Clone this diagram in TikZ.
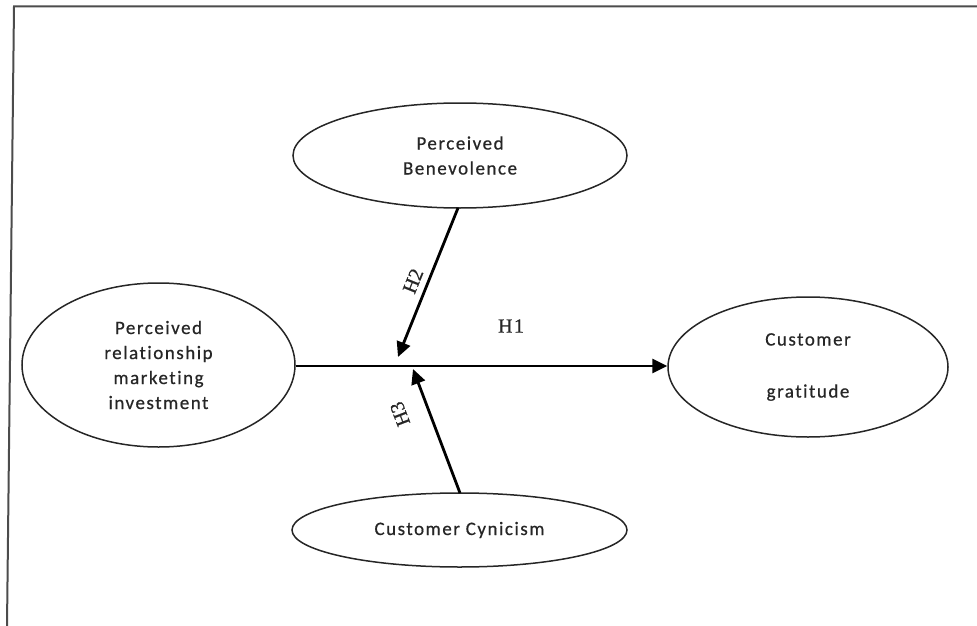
\documentclass[tikz,border=0pt]{standalone}
\usepackage{fontspec}
\usetikzlibrary{shapes.geometric,arrows.meta}
\newfontfamily\lblfont{Carlito}[LetterSpace=8,Ligatures=NoCommon,FakeBold=0.6]
\newfontfamily\hypfont{Liberation Serif}[FakeBold=0.8]
\begin{document}
\begin{tikzpicture}[x=1pt,y=-1pt,
  construct/.style={ellipse,draw=black!85,line width=1.5pt,inner sep=0pt,
    align=center,font=\lblfont\fontsize{19}{25}\selectfont,text=black!85},
  path/.style={line width=2.8pt,-{Triangle[length=15pt,width=14pt]}},
  hyp/.style={font=\hypfont\fontsize{20}{24}\selectfont,text=black!85,inner sep=1pt},
  frameline/.style={draw=black!70,line width=2pt}]
  \useasboundingbox (0,0) rectangle (977,626);
  % outer frame (top and left edges)
  \coordinate (fTL) at (14,6.5);
  \coordinate (fTR) at (977,6.5);
  \coordinate (fBL) at (7,626);
  \draw[frameline] (fBL) -- (fTL) -- (fTR);

  % constructs
  \node[construct,minimum width=273pt,minimum height=164pt] (pri) at (158.5,365)
    {Perceived\\relationship\\marketing\\investment};
  \node[construct,minimum width=280pt,minimum height=140pt] (cg) at (808,367)
    {Customer\\[27pt]gratitude};
  \node[construct,minimum width=334pt,minimum height=105pt] (pb) at (460,155.5)
    {Perceived\\Benevolence};
  \node[construct,minimum width=335pt,minimum height=74pt] (cc) at (459.5,530)
    {Customer Cynicism};

  % main effect
  \draw[path] (pri.east |- 0,366) -- (cg.west |- 0,366);
  \node[hyp] (h1) at (511,326) {H\kern1.5pt 1};

  % moderating effects
  \coordinate (m2) at (398,357);
  \coordinate (m3) at (413,369);
  \draw[path] (458,208) coordinate (s2) -- (m2);
  \draw[path] (460,493) coordinate (s3) -- (m3);
  \node[hyp,rotate=68] (h2) at (413,281) {H2};
  \node[hyp,rotate=111] (h3) at (400,414) {H3};
\end{tikzpicture}
\end{document}
